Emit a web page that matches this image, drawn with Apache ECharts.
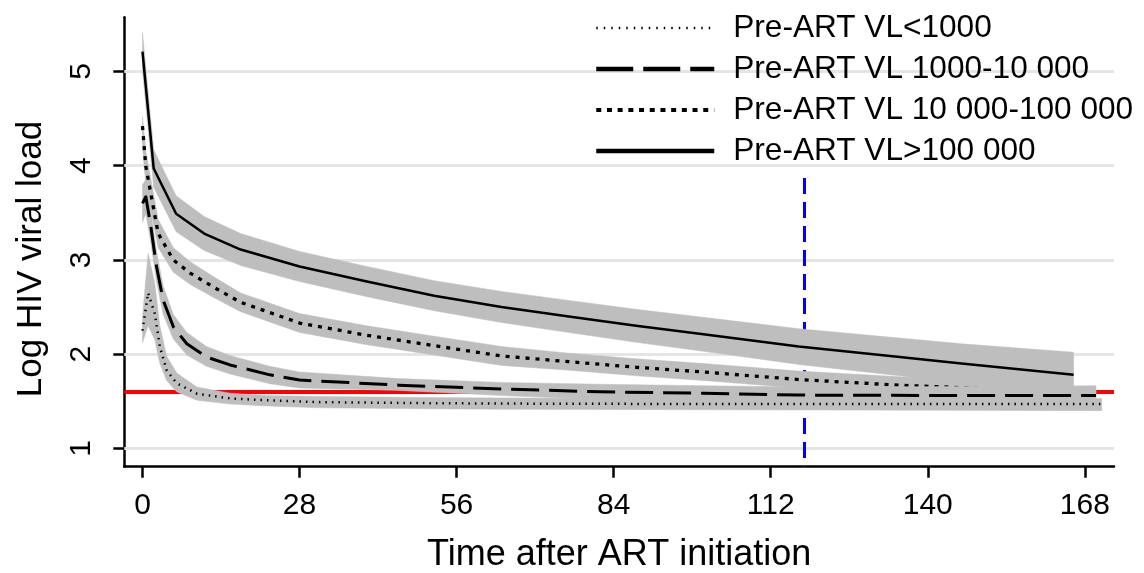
<!DOCTYPE html>
<html>
<head>
<meta charset="utf-8">
<script src="https://cdn.jsdelivr.net/npm/echarts@6/dist/echarts.min.js"></script>
<style>html,body{margin:0;padding:0;background:#fff}#c{width:1144px;height:573px}</style>
</head>
<body>
<div id="c"></div>
<script>
// ---- data ----
const seriesNames = ['Pre-ART VL<1000', 'Pre-ART VL 1000-10 000', 'Pre-ART VL 10 000-100 000', 'Pre-ART VL>100 000'];
const xTicks = [0, 28, 56, 84, 112, 140, 168];
const yTicks = [1, 2, 3, 4, 5];
const threshold = 1.6;
const cutoffWeek = 118;
const cutoffTop = 3.87;

// Pre-ART VL>100 000
const tHigh = [0, 2, 6, 11, 17.5, 28, 40, 52, 64, 76, 88, 100, 117, 135, 146, 166];
const vHigh = [5.21, 3.97, 3.49, 3.28, 3.11, 2.93, 2.77, 2.62, 2.50, 2.40, 2.30, 2.21, 2.08, 1.97, 1.90, 1.78];
const loHigh = [5.01, 3.77, 3.30, 3.10, 2.94, 2.77, 2.61, 2.46, 2.335, 2.23, 2.125, 2.03, 1.89, 1.77, 1.69, 1.54];
const hiHigh = [5.41, 4.17, 3.68, 3.46, 3.28, 3.09, 2.93, 2.78, 2.665, 2.57, 2.475, 2.39, 2.27, 2.17, 2.11, 2.02];

// Pre-ART VL 10 000-100 000
const tMid2 = [0, 0.6, 2.8, 5.5, 8.5, 12.7, 17.5, 28, 40, 52, 64, 76, 88, 100, 117, 135, 152];
const vMid2 = [4.42, 3.99, 3.28, 3.00, 2.86, 2.71, 2.55, 2.33, 2.20, 2.09, 1.98, 1.92, 1.86, 1.81, 1.73, 1.67, 1.63];
const loMid2 = [4.20, 3.80, 3.13, 2.87, 2.74, 2.60, 2.45, 2.23, 2.10, 1.99, 1.88, 1.83, 1.77, 1.72, 1.64, 1.58, 1.54];
const hiMid2 = [4.52, 4.15, 3.43, 3.13, 2.98, 2.82, 2.65, 2.43, 2.30, 2.19, 2.08, 2.01, 1.95, 1.90, 1.82, 1.76, 1.72];

// Pre-ART VL 1000-10 000
const tMid1 = [0, 0.6, 1.5, 2.5, 3.7, 5.5, 7.9, 11.4, 15.6, 22.7, 28, 45.7, 64, 81.6, 100, 117, 146, 170];
const vMid1 = [3.60, 3.67, 3.35, 2.93, 2.57, 2.29, 2.11, 1.97, 1.885, 1.78, 1.725, 1.67, 1.63, 1.60, 1.585, 1.565, 1.56, 1.56];
const loMid1 = [3.40, 3.49, 3.18, 2.77, 2.42, 2.16, 1.99, 1.87, 1.79, 1.685, 1.64, 1.615, 1.56, 1.52, 1.505, 1.48, 1.465, 1.455];
const hiMid1 = [3.80, 3.85, 3.52, 3.09, 2.72, 2.42, 2.23, 2.08, 1.985, 1.87, 1.81, 1.74, 1.70, 1.68, 1.665, 1.65, 1.655, 1.665];

// Pre-ART VL<1000
const tLow = [0, 1, 2.2, 3.1, 4.3, 6.1, 9.7, 15.6, 22, 31.8, 50, 64, 100, 140, 171];
const vLow = [2.25, 2.65, 2.43, 2.08, 1.83, 1.69, 1.58, 1.53, 1.51, 1.49, 1.48, 1.475, 1.47, 1.47, 1.47];
const loLow = [2.12, 2.30, 2.15, 1.90, 1.72, 1.60, 1.51, 1.47, 1.45, 1.43, 1.42, 1.415, 1.41, 1.405, 1.40];
const hiLow = [2.40, 3.07, 2.75, 2.30, 1.98, 1.80, 1.65, 1.585, 1.56, 1.55, 1.54, 1.535, 1.53, 1.53, 1.53];

// ---- build ----
const FONT = 'Liberation Sans, Arial, Helvetica, sans-serif';
const BAND = '#bebebe';
const zip = (a, b) => a.map((x, i) => [x, b[i]]);

function band(key, t, lo, hi, z) {
  const rows = t.map((x, i) => [x, lo[i], hi[i]]);
  return {
    type: 'custom', name: key + '_band', z: z, silent: true,
    data: rows,
    encode: { x: 0, y: [1, 2] },
    renderItem: function (params, api) {
      if (params.dataIndex !== 0) return null;
      const upper = rows.map(r => api.coord([r[0], r[2]]));
      const lower = rows.slice().reverse().map(r => api.coord([r[0], r[1]]));
      return {
        type: 'polygon',
        shape: { points: upper.concat(lower) },
        style: { fill: BAND, stroke: BAND, lineWidth: 0.5 }
      };
    }
  };
}
function mean(name, t, v, style, z) {
  return { type: 'line', name: name, data: zip(t, v), symbol: 'none', smooth: false,
    lineStyle: Object.assign({ color: '#000', cap: 'butt', join: 'round' }, style),
    itemStyle: { color: '#000' }, z: z, silent: true };
}

const styleLow = { width: 2.5, type: [1.5, 5] };
const styleMid1 = { width: 3, type: [28, 10] };
const styleMid2 = { width: 3.3, type: [4, 6] };
const styleHigh = { width: 2.5, type: 'solid' };

const refSeries = {
  type: 'line', name: 'ref', data: [], z: 1, silent: true,
  markLine: {
    z: 1, silent: true, symbol: ['none', 'none'], animation: false, label: { show: false },
    data: yTicks.map(v => ({ yAxis: v, lineStyle: { color: '#e5e5e5', width: 3, type: 'solid' } }))
      .concat([
        { yAxis: threshold, lineStyle: { color: '#ff0000', width: 4, type: 'solid' } },
        [{ coord: [cutoffWeek, cutoffTop], lineStyle: { color: '#0000ff', width: 3, type: [16, 8] } },
         { coord: [cutoffWeek, 0.805] }]
      ])
  }
};

const series = [refSeries,
  band('high', tHigh, loHigh, hiHigh, 2),
  mean(seriesNames[3], tHigh, vHigh, styleHigh, 3),
  band('mid2', tMid2, loMid2, hiMid2, 4),
  mean(seriesNames[2], tMid2, vMid2, styleMid2, 5),
  band('mid1', tMid1, loMid1, hiMid1, 6),
  mean(seriesNames[1], tMid1, vMid1, styleMid1, 7),
  band('low', tLow, loLow, hiLow, 8),
  mean(seriesNames[0], tLow, vLow, styleLow, 9)
];

const legendStyles = [
  { width: 2.5, type: [1.5, 6] },
  { width: 4.3, type: [37, 10] },
  { width: 4, type: [5, 5.7] },
  { width: 4.5, type: 'solid' }
];

const chart = echarts.init(document.getElementById('c'), null, { renderer: 'canvas' });
chart.setOption({
  animation: false,
  backgroundColor: '#fff',
  grid: { left: 124.3, right: 30, top: 17.3, bottom: 106.3, containLabel: false, outerBoundsMode: 'none' },
  legend: {
    orient: 'vertical', left: 594, top: 12, padding: 0, z: 20,
    itemWidth: 118, itemHeight: 10, itemGap: 9, selectedMode: false,
    data: seriesNames.map((n, i) => ({ name: n,
      itemStyle: { opacity: 0 },
      lineStyle: Object.assign({ color: '#000', cap: 'butt', opacity: 1 }, legendStyles[i]) })),
    textStyle: { fontFamily: FONT, fontSize: 31.6, lineHeight: 32, color: '#000', padding: [0, 0, 0, 14] }
  },
  xAxis: {
    type: 'value', min: -3.24, max: 173.2,
    name: 'Time after ART initiation', nameLocation: 'middle', nameGap: 70,
    nameTextStyle: { fontFamily: FONT, fontSize: 36, color: '#000' },
    axisLine: { show: true, onZero: false, lineStyle: { color: '#000', width: 2.5 } },
    axisTick: { show: true, length: 11, customValues: xTicks, lineStyle: { color: '#000', width: 2.5 } },
    axisLabel: { show: true, customValues: xTicks, margin: 24, fontFamily: FONT, fontSize: 30, color: '#000' },
    splitLine: { show: false }
  },
  yAxis: {
    type: 'value', min: 0.805, max: 5.575,
    name: 'Log HIV viral load', nameLocation: 'middle', nameGap: 75,
    nameTextStyle: { fontFamily: FONT, fontSize: 35, color: '#000', padding: [0, 34, 0, 0] },
    axisLine: { show: true, onZero: false, lineStyle: { color: '#000', width: 2.5 } },
    axisTick: { show: true, length: 11, customValues: yTicks, lineStyle: { color: '#000', width: 2.5 } },
    axisLabel: { show: true, customValues: yTicks, rotate: 90, margin: 28, fontFamily: FONT, fontSize: 30, color: '#000' },
    splitLine: { show: false }
  },
  series: series
});
</script>
</body>
</html>
